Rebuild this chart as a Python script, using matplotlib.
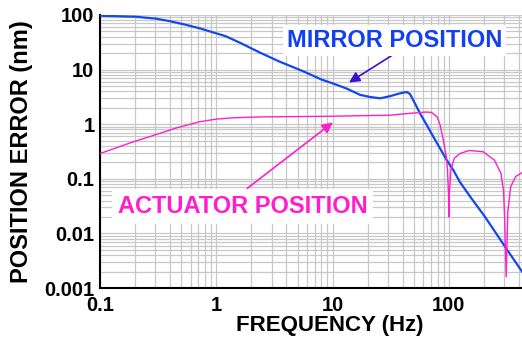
import matplotlib
matplotlib.use("Agg")
import matplotlib.pyplot as plt

# Mirror position error (blue)
mirror_freq = [0.1, 0.2, 0.3, 0.4, 0.55, 0.72, 0.94, 1.2, 1.6, 2.37, 3.5, 5.6, 8, 10,
               13.2, 17.2, 21, 25.6, 31, 38, 43.4, 46.3, 51, 56.4, 64.4, 73.4,
               83.8, 95.7, 109, 124, 156, 204, 311, 425]
mirror_err = [97, 93, 86, 77, 66, 57, 48, 41, 31, 20.5, 14, 9.3, 6.6, 5.6,
              4.5, 3.45, 3.15, 2.98, 3.25, 3.68, 3.89, 3.57, 2.41, 1.58, 0.97, 0.59,
              0.362, 0.221, 0.145, 0.088, 0.044, 0.0202, 0.0053, 0.002]

# Actuator position error (magenta)
act_freq = [0.1, 0.19, 0.3, 0.45, 0.72, 1.0, 1.4, 2.4, 5, 10, 17, 31, 46, 64, 71,
            79, 84, 89.5, 95, 97.3, 99.3, 100, 100.7, 104, 111, 124, 149, 197, 246,
            280, 295, 300, 311, 321, 340, 375, 425]
act_err = [0.29, 0.47, 0.64, 0.85, 1.11, 1.24, 1.31, 1.36, 1.38, 1.40, 1.43, 1.46, 1.58, 1.67, 1.64,
           1.37, 0.97, 0.51, 0.25, 0.145, 0.05, 0.02, 0.05, 0.145, 0.236, 0.29, 0.33, 0.313, 0.22,
           0.126, 0.06, 0.025, 0.0016, 0.025, 0.072, 0.11, 0.13]

x_ticks = [0.1, 1, 10, 100]
x_tick_labels = ["0.1", "1", "10", "100"]
y_ticks = [0.001, 0.01, 0.1, 1, 10, 100]
y_tick_labels = ["0.001", "0.01", "0.1", "1", "10", "100"]

plt.rcParams['font.family'] = ['Liberation Sans', 'DejaVu Sans']

fig = plt.figure(figsize=(5.22, 3.37), dpi=100)
ax = fig.add_axes([100 / 522, 1 - 288 / 337, 422 / 522, (288 - 15) / 337])

ax.plot(mirror_freq, mirror_err, color="#1447f0", lw=1.6, zorder=3,
        solid_joinstyle="round")
ax.plot(act_freq, act_err, color="#ff1ecb", lw=1.0, zorder=3,
        solid_joinstyle="round")

ax.set_xscale("log")
ax.set_yscale("log")
ax.set_xlim(0.1, 425)
ax.set_ylim(0.001, 100)

ax.set_xticks(x_ticks)
ax.set_xticklabels(x_tick_labels, fontsize=14.5, fontweight="bold")
ax.set_yticks(y_ticks)
ax.set_yticklabels(y_tick_labels, fontsize=14.5, fontweight="bold")
ax.tick_params(which="both", length=0)
ax.tick_params(axis="x", pad=6)
ax.tick_params(axis="y", pad=4)

ax.grid(True, which="both", color="#c8c8c8", lw=0.9)
ax.set_axisbelow(True)

for s in ["top", "right"]:
    ax.spines[s].set_visible(False)
for s in ["left", "bottom"]:
    ax.spines[s].set_linewidth(1.5)

# annotations
ax.annotate("", xy=(13.2, 5.45), xytext=(41, 25),
            arrowprops=dict(arrowstyle="-|>", color="#4010c8", lw=1.2, mutation_scale=16),
            zorder=4)
ax.text(0.698, 0.906, "MIRROR POSITION", transform=ax.transAxes, fontsize=17,
        fontweight="bold", color="#1040f0", ha="center", va="center", zorder=5,
        bbox=dict(facecolor="white", edgecolor="none", pad=3))

ax.annotate("", xy=(10.5, 1.16), xytext=(1.77, 0.0624),
            arrowprops=dict(arrowstyle="-|>", color="#ff1ecb", lw=1.2, mutation_scale=16),
            zorder=4)
ax.text(0.3377, 0.298, "ACTUATOR POSITION", transform=ax.transAxes, fontsize=17,
        fontweight="bold", color="#ff1ecb", ha="center", va="center", zorder=5,
        bbox=dict(facecolor="white", edgecolor="none", pad=4))

fig.text(22 / 522, 1 - 152 / 337, "POSITION ERROR (nm)", rotation=90, fontsize=17,
         fontweight="bold", ha="center", va="center")
fig.text(330 / 522, 1 - 326 / 337, "FREQUENCY (Hz)", fontsize=16,
         fontweight="bold", ha="center", va="center")

fig.savefig("out.png", dpi=100)
